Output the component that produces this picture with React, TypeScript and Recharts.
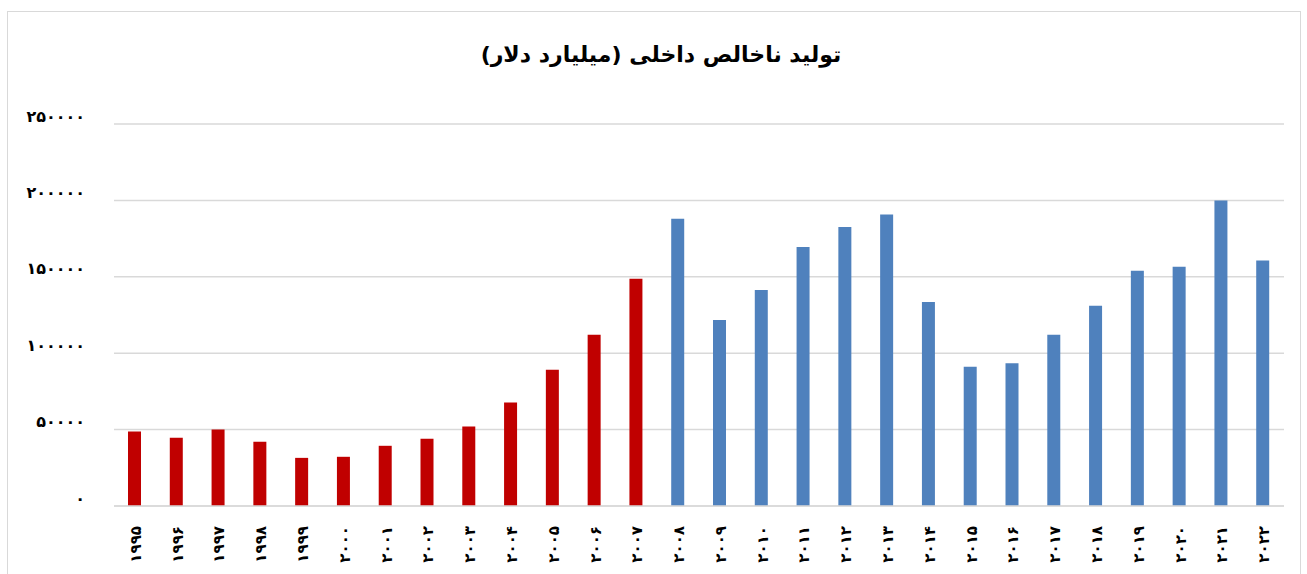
import React from 'react';
import { Bar, BarChart, CartesianGrid, Cell, XAxis, YAxis } from 'recharts';

// GDP values, 1995-2022
const years = [
  '۱۹۹۵', '۱۹۹۶', '۱۹۹۷', '۱۹۹۸', '۱۹۹۹', '۲۰۰۰', '۲۰۰۱', '۲۰۰۲', '۲۰۰۳', '۲۰۰۴',
  '۲۰۰۵', '۲۰۰۶', '۲۰۰۷', '۲۰۰۸', '۲۰۰۹', '۲۰۱۰', '۲۰۱۱', '۲۰۱۲', '۲۰۱۳', '۲۰۱۴',
  '۲۰۱۵', '۲۰۱۶', '۲۰۱۷', '۲۰۱۸', '۲۰۱۹', '۲۰۲۰', '۲۰۲۱', '۲۰۲۲',
];
const gdp = [
  48700, 44700, 50000, 42100, 31500, 32200, 39400, 44000, 52000, 67800,
  89100, 112000, 148700, 188000, 121700, 141300, 169500, 182600, 190700, 133500,
  91100, 93500, 112000, 131000, 154000, 156600, 199900, 160600,
];
// the first 13 years are drawn red, the rest blue
const redCount = 13;
const yTicks = [0, 50000, 100000, 150000, 200000, 250000];

const RED = '#C00000';
const BLUE = '#4F81BD';
const FONT = '"DejaVu Sans", sans-serif';

const faDigits = '۰۱۲۳۴۵۶۷۸۹';
const toFa = (n: number) => String(n).replace(/\d/g, (d) => faDigits[Number(d)]);

const data = years.map((year, i) => ({ year, value: gdp[i] }));

const YearTick = (props: any) => {
  const { x, y, payload } = props;
  return (
    <text
      x={0}
      y={0}
      transform={`translate(${x + 6},${y + 12}) rotate(-90)`}
      textAnchor="end"
      fontFamily={FONT}
      fontWeight="bold"
      fontSize={15}
      fill="#000"
    >
      {payload.value}
    </text>
  );
};

const ValueTick = (props: any) => {
  const { x, y, payload } = props;
  return (
    <text
      x={x}
      y={y - 8}
      dy="0.355em"
      textAnchor="end"
      fontFamily={FONT}
      fontWeight="bold"
      fontSize={16}
      fill="#000"
    >
      {toFa(payload.value)}
    </text>
  );
};

export default function App() {
  return (
    <div style={{ position: 'absolute', left: 0, top: 0, width: 1307, height: 574, overflow: 'hidden', background: '#fff' }}>
      <div
        style={{
          position: 'absolute',
          left: 7,
          top: 11,
          width: 1292,
          height: 600,
          border: '1px solid #d9d9d9',
        }}
      />
      <div
        style={{
          position: 'absolute',
          top: 42,
          left: 0,
          width: 1322,
          textAlign: 'center',
          fontFamily: FONT,
          fontWeight: 'bold',
          fontSize: 22,
          direction: 'rtl',
        }}
      >
        تولید ناخالص داخلی (میلیارد دلار)
      </div>
      <div style={{ position: 'absolute', left: 0, top: 0 }}>
        <BarChart
          width={1307}
          height={574}
          data={data}
          margin={{ top: 124, right: 23, left: 14, bottom: 0 }}
          barSize={13}
        >
          <CartesianGrid vertical={false} stroke="#d9d9d9" strokeWidth={1.5} />
          <XAxis
            dataKey="year"
            interval={0}
            tickLine={false}
            axisLine={{ stroke: '#d9d9d9', strokeWidth: 1.5 }}
            tick={<YearTick />}
            height={68}
          />
          <YAxis
            width={100}
            domain={[0, 250000]}
            ticks={yTicks}
            tickLine={false}
            axisLine={false}
            tickSize={0}
            tickMargin={29}
            tick={<ValueTick />}
          />
          <Bar dataKey="value" isAnimationActive={false}>
            {data.map((d, i) => (
              <Cell key={d.year} fill={i < redCount ? RED : BLUE} />
            ))}
          </Bar>
        </BarChart>
      </div>
    </div>
  );
}
